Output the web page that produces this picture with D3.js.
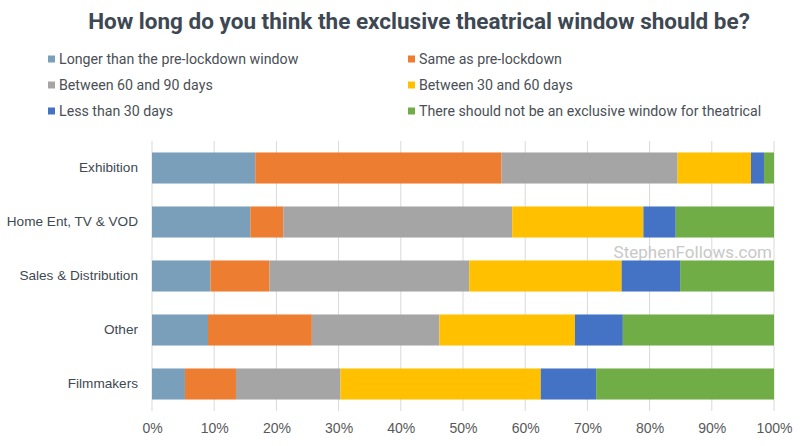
<!DOCTYPE html>
<html>
<head>
<meta charset="utf-8">
<script src="https://cdn.jsdelivr.net/npm/d3@7"></script>
<style>
  body { margin: 0; background: #fff; }
  svg { font-family: Roboto, "Noto Sans", sans-serif; display: block; }
</style>
</head>
<body>
<div id="chart"></div>
<script>
const categories = ["Exhibition", "Home Ent, TV & VOD", "Sales & Distribution", "Other", "Filmmakers"];
const seriesNames = [
  "Longer than the pre-lockdown window",
  "Same as pre-lockdown",
  "Between 60 and 90 days",
  "Between 30 and 60 days",
  "Less than 30 days",
  "There should not be an exclusive window for theatrical"
];
// shares per category, same order as seriesNames
const longer = [16.6, 15.8, 9.4, 9.0, 5.3];
const same = [39.6, 5.3, 9.5, 16.7, 8.2];
const d60to90 = [28.3, 36.8, 32.1, 20.5, 16.8];
const d30to60 = [11.8, 21.1, 24.5, 21.8, 32.2];
const under30 = [2.1, 5.2, 9.4, 7.7, 8.9];
const noWindow = [1.6, 15.8, 15.1, 24.3, 28.6];
const xTicks = [0, 0.1, 0.2, 0.3, 0.4, 0.5, 0.6, 0.7, 0.8, 0.9, 1];

const width = 800;
const height = 446;
const margin = { top: 141, right: 26, bottom: 35, left: 152 };

const colors = ["#7a9fba", "#ed7d31", "#a5a5a5", "#ffc000", "#4472c4", "#70ad47"];
const seriesValues = [longer, same, d60to90, d30to60, under30, noWindow];

const data = categories.map((c, i) => {
  const row = { cat: c };
  seriesNames.forEach((s, j) => { row[s] = seriesValues[j][i] / 100; });
  return row;
});

const svg = d3.select("#chart").append("svg")
  .attr("width", width)
  .attr("height", height);

const x = d3.scaleLinear().domain([0, 1]).range([margin.left, width - margin.right]);
const y = d3.scaleBand().domain(categories)
  .range([margin.top, height - margin.bottom])
  .paddingInner(0.425).paddingOuter(0.2125);

// gridlines
svg.append("g")
  .selectAll("line")
  .data(xTicks)
  .join("line")
  .attr("x1", d => x(d)).attr("x2", d => x(d))
  .attr("y1", margin.top).attr("y2", height - margin.bottom)
  .attr("stroke", "#d9d9d9").attr("stroke-width", 1);

// watermark
svg.append("text")
  .attr("x", 772).attr("y", 258)
  .attr("text-anchor", "end")
  .attr("fill", "#c8c8c8")
  .style("font-size", "17px")
  .text("StephenFollows.com");

const stacked = d3.stack().keys(seriesNames)(data);

svg.append("g")
  .selectAll("g")
  .data(stacked)
  .join("g")
  .attr("fill", (d, i) => colors[i])
  .selectAll("rect")
  .data(d => d)
  .join("rect")
  .attr("x", d => x(d[0]))
  .attr("width", d => Math.max(0, x(Math.min(1, d[1])) - x(d[0])))
  .attr("y", d => y(d.data.cat))
  .attr("height", y.bandwidth());

// x axis labels
const xAxis = svg.append("g")
  .attr("transform", `translate(0,${height - margin.bottom})`)
  .call(d3.axisBottom(x).tickValues(xTicks).tickFormat(d3.format(".0%")).tickSize(0).tickPadding(12));
xAxis.select(".domain").remove();
xAxis.selectAll("text").attr("fill", "#595959").style("font-size", "14px").attr("font-family", null);

// y axis labels
const yAxis = svg.append("g")
  .attr("transform", `translate(${margin.left},0)`)
  .call(d3.axisLeft(y).tickSize(0).tickPadding(14));
yAxis.select(".domain").remove();
yAxis.selectAll("text").attr("fill", "#404952").style("font-size", "13.6px").attr("font-family", null);

// title
svg.append("text")
  .attr("x", 419).attr("y", 29)
  .attr("text-anchor", "middle")
  .attr("fill", "#3d4853")
  .style("font-size", "22.5px")
  .style("font-weight", "bold")
  .text("How long do you think the exclusive theatrical window should be?");

// legend
const legendCols = [48, 408];
const legendRows = [59, 85, 111];
const legend = svg.append("g");
seriesNames.forEach((s, i) => {
  const lx = legendCols[i % 2];
  const ly = legendRows[Math.floor(i / 2)];
  const g = legend.append("g").attr("transform", `translate(${lx},${ly})`);
  g.append("rect")
    .attr("x", 0).attr("y", -3.5)
    .attr("width", 7).attr("height", 7)
    .attr("fill", colors[i]);
  g.append("text")
    .attr("x", 11).attr("y", 5)
    .attr("fill", "#4a4f55")
    .style("font-size", "14.2px")
    .text(s);
});
</script>
</body>
</html>
